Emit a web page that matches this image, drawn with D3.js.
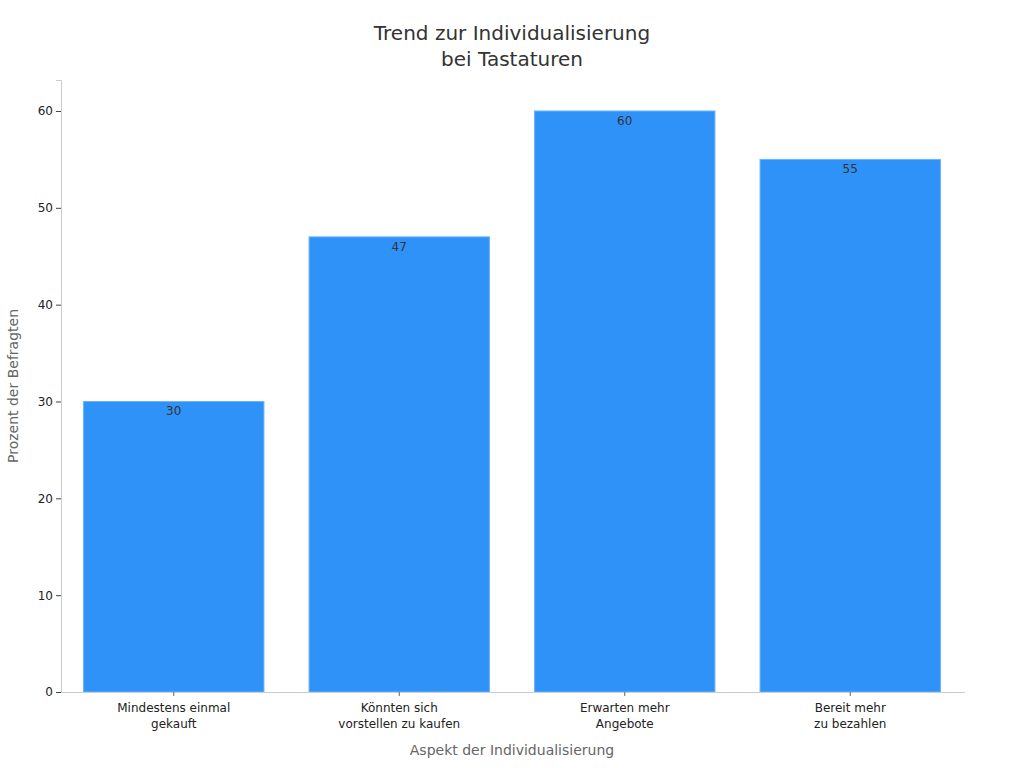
<!DOCTYPE html>
<html>
<head>
<meta charset="utf-8">
<script src="https://cdn.jsdelivr.net/npm/d3@7"></script>
<style>
  body { margin: 0; background: #fff; font-family: "DejaVu Sans", sans-serif; }
  svg text { font-family: "DejaVu Sans", sans-serif; }
  .tick text { font-size: 12px; fill: #222; }
</style>
</head>
<body>
<div id="vis"></div>
<script>
// chart data
var categories = [
  ['Mindestens einmal', 'gekauft'],
  ['Könnten sich', 'vorstellen zu kaufen'],
  ['Erwarten mehr', 'Angebote'],
  ['Bereit mehr', 'zu bezahlen']
];
var values = [30, 47, 60, 55];
var yTicks = [0, 10, 20, 30, 40, 50, 60];

var width = 1024, height = 768;
var margin = { top: 80, left: 61, bottom: 76, right: 61 };

var svg = d3.select('#vis').append('svg')
  .attr('width', width)
  .attr('height', height);

var keys = categories.map(function (d) { return d.join(' '); });

var x = d3.scaleBand()
  .domain(keys)
  .range([margin.left, width - margin.right])
  .paddingInner(0.2)
  .paddingOuter(0.1);

var y = d3.scaleLinear()
  .domain([0, 63.2])
  .range([height - margin.bottom, margin.top]);

// title
svg.append('text')
  .attr('x', 512).attr('y', 40)
  .attr('text-anchor', 'middle')
  .style('font-size', '20px').style('fill', '#333')
  .text('Trend zur Individualisierung');
svg.append('text')
  .attr('x', 512).attr('y', 66)
  .attr('text-anchor', 'middle')
  .style('font-size', '20px').style('fill', '#333')
  .text('bei Tastaturen');

// bars
svg.append('g').selectAll('rect')
  .data(values)
  .enter()
  .append('rect')
  .attr('x', function (d, i) { return x(keys[i]); })
  .attr('y', function (d) { return y(d); })
  .attr('width', x.bandwidth())
  .attr('height', function (d) { return y(0) - y(d); })
  .attr('fill', '#2f92f8')
  .attr('stroke', '#6db3fa')
  .attr('stroke-width', 1);

// value labels
svg.append('g').selectAll('text')
  .data(values)
  .enter()
  .append('text')
  .attr('x', function (d, i) { return x(keys[i]) + x.bandwidth() / 2; })
  .attr('y', function (d) { return y(d) + 14; })
  .attr('text-anchor', 'middle')
  .style('font-size', '12px')
  .style('fill', '#333')
  .text(function (d) { return d; });

// y axis
var yAxis = svg.append('g')
  .attr('transform', 'translate(' + margin.left + ',0)')
  .call(d3.axisLeft(y).tickValues(yTicks).tickSize(5).tickPadding(3));
yAxis.select('.domain').attr('stroke', '#ccc');
yAxis.selectAll('.tick line').attr('stroke', '#444');

// x axis
var xAxis = svg.append('g')
  .attr('transform', 'translate(0,' + y(0) + ')')
  .call(d3.axisBottom(x).tickSize(4).tickPadding(6).tickFormat(''));
xAxis.select('.domain').attr('stroke', '#ccc').attr('d', 'M' + margin.left + ',0.5H' + (width - margin.right + 2));
xAxis.selectAll('.tick line').attr('stroke', '#666');
xAxis.selectAll('.tick').each(function (d, i) {
  var t = d3.select(this).append('text')
    .attr('text-anchor', 'middle')
    .attr('y', 20);
  categories[i].forEach(function (line, j) {
    t.append('tspan').attr('x', 0).attr('dy', j === 0 ? 0 : 16).text(line);
  });
});

// axis titles
svg.append('text')
  .attr('x', (margin.left + width - margin.right) / 2)
  .attr('y', 755)
  .attr('text-anchor', 'middle')
  .style('font-size', '14px').style('fill', '#666')
  .text('Aspekt der Individualisierung');

svg.append('text')
  .attr('transform', 'translate(18,' + ((margin.top + height - margin.bottom) / 2) + ') rotate(-90)')
  .attr('text-anchor', 'middle')
  .style('font-size', '14px').style('fill', '#666')
  .text('Prozent der Befragten');
</script>
</body>
</html>
